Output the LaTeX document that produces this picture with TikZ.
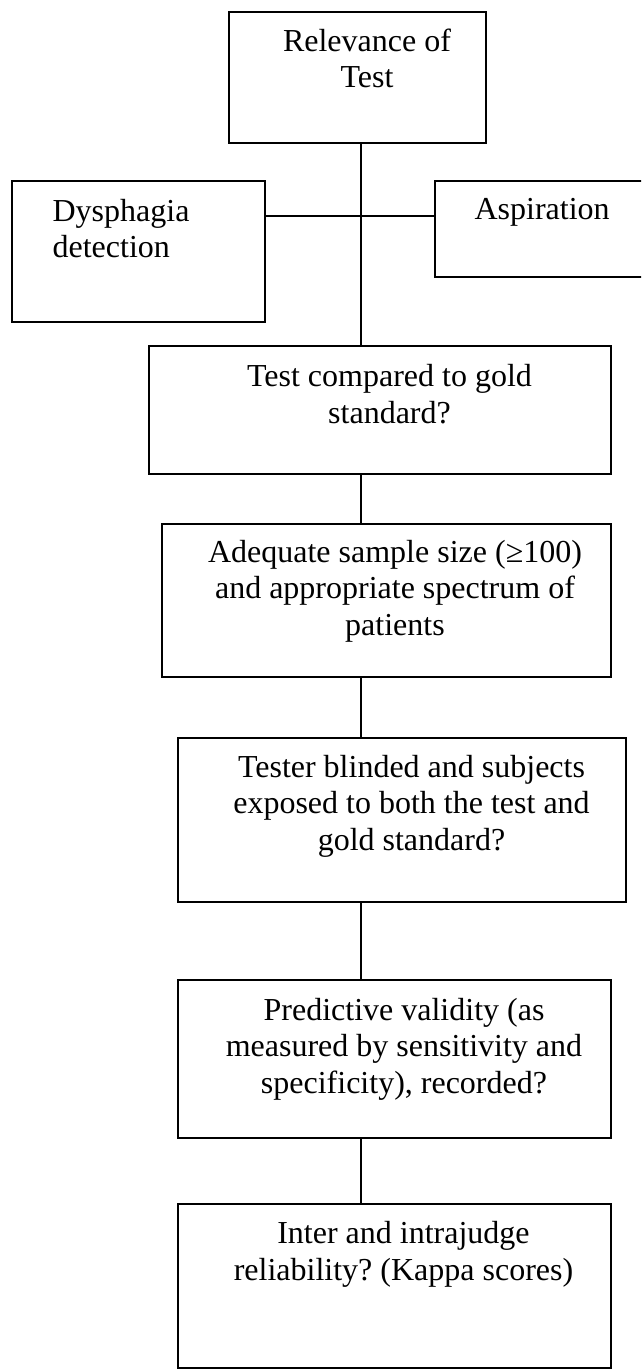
\documentclass[tikz,border=0pt]{standalone}
\usepackage{fontspec}
\setmainfont{Liberation Serif}
\usepackage{tikz}
\frenchspacing

\begin{document}
\begin{tikzpicture}[x=1pt,y=-1pt,line width=1.2pt,
  box/.style={rectangle,draw,inner sep=0pt},
  txt/.style={font=\fontsize{32}{36.5}\selectfont,inner sep=0pt,anchor=base,align=center}]
\clip (0,0) rectangle (641,1372);

\node (B1)[box,minimum width=257pt,minimum height=131pt] at (357.5,77.5) {};
\node (B2)[box,minimum width=253pt,minimum height=141pt] at (138.5,251.5) {};
\node (B3)[box,minimum width=215pt,minimum height=96pt] at (542.5,229) {};

\node (B4)[box,minimum width=462pt,minimum height=128pt] at (380,410) {};
\node (B5)[box,minimum width=449pt,minimum height=153pt] at (386.5,600.5) {};
\node (B6)[box,minimum width=448pt,minimum height=164pt] at (402,820) {};
\node (B7)[box,minimum width=433pt,minimum height=158pt] at (394.5,1059) {};
\node (B8)[box,minimum width=433pt,minimum height=164pt] at (394.5,1286) {};

\coordinate (hub) at (361,216);

\draw (B1.south -| hub) -- (B4.north -| hub);
\draw (B2.east |- hub) -- (B3.west |- hub);
\draw (B4.south -| hub) -- (B5.north -| hub);
\draw (B5.south -| hub) -- (B6.north -| hub);
\draw (B6.south -| hub) -- (B7.north -| hub);
\draw (B7.south -| hub) -- (B8.north -| hub);

% last baseline of each text
\node (L1)[txt] at (367,88) {Relevance of\\Test};
\node (L2)[txt,anchor=base west,align=left] at (52,258) {Dysphagia\\detection};
\node (L3)[txt,anchor=base west] at (474,220) {Aspiration};
\node (L4)[txt] at (389.5,423) {Test compared to gold\\standard?};
\node (L5)[txt] at (395,635) {Adequate sample size (≥100)\\and appropriate spectrum of\\patients};
\node (L6)[txt] at (411.5,850) {Tester blinded and subjects\\exposed to both the test and\\gold standard?};
\node (L7)[txt] at (404,1093) {Predictive validity (as\\measured by sensitivity and\\specificity), recorded?};
\node (L8)[txt] at (403.5,1280) {Inter and intrajudge\\reliability? (Kappa scores)};
\end{tikzpicture}
\end{document}
